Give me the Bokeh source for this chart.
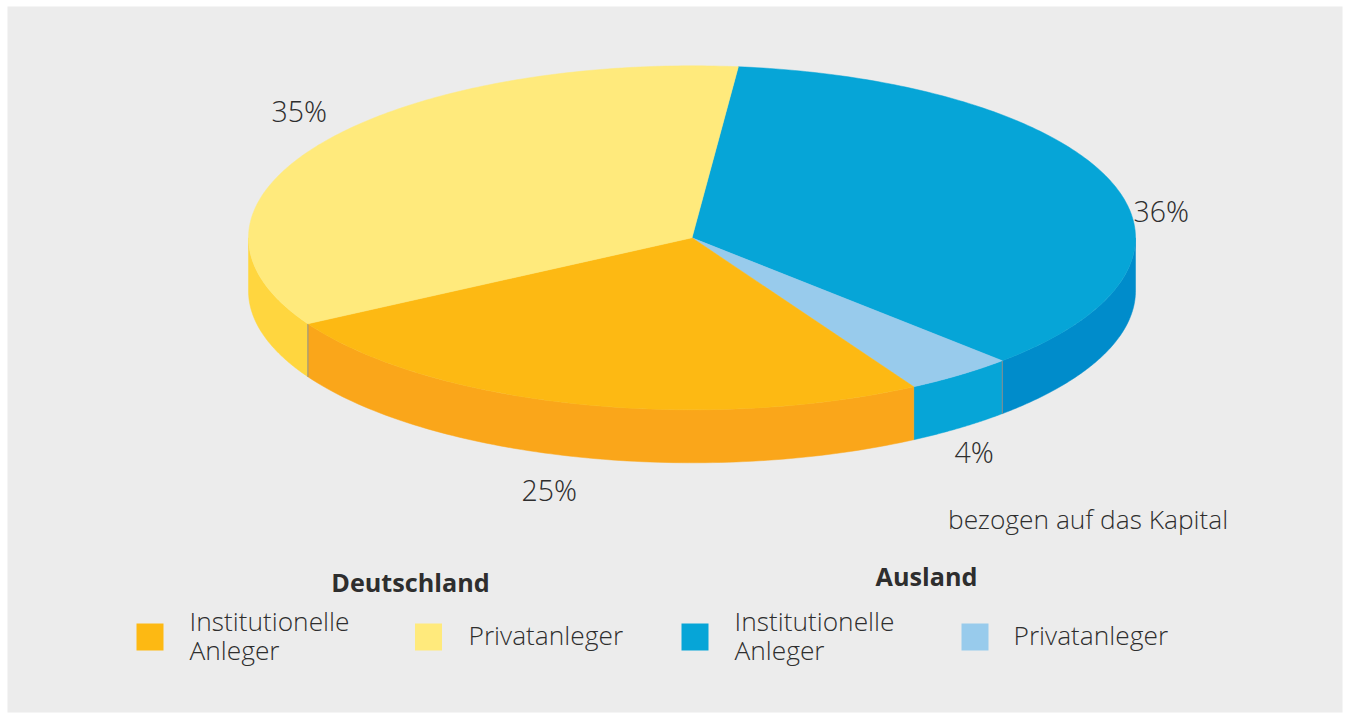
import numpy as np
from bokeh.plotting import figure
from bokeh.models import Range1d
from bokeh.core.properties import value
from bokeh.embed import file_html
from bokeh.resources import INLINE

# data
series = ["Ausland Institutionelle Anleger", "Ausland Privatanleger",
          "Deutschland Institutionelle Anleger", "Deutschland Privatanleger"]
shares = [36, 4, 25, 35]
share_labels = ["36%", "4%", "25%", "35%"]
top_colors = ["#06a5d7", "#98cbec", "#fdb913", "#ffea7c"]
side_colors = ["#008ccb", "#06a5d7", "#faa61a", "#ffd63f"]
edge_marked = [True, False, True, False]
legend_heads = ["Deutschland", "Ausland"]
legend_names = [["Institutionelle", "Anleger"], ["Privatanleger"], ["Institutionelle", "Anleger"], ["Privatanleger"]]
legend_colors = ["#fdb913", "#ffea7c", "#06a5d7", "#98cbec"]
note = "bezogen auf das Kapital"

# geometry
CX, CY, RX, RY, DEPTH = 691.5, 237.3, 443.5, 172.0, 53.0
START = 84.0
FONT = "Open Sans Light"
BOLD = "Open Sans"
TXT = "#2e2e2e"
BG = "#ececec"
YOFF = -11.5

p = figure(width=1348, height=720, output_backend="svg", toolbar_location=None,
           x_range=Range1d(7, 1342), y_range=Range1d(712, 6),
           min_border_left=7, min_border_right=6, min_border_top=6, min_border_bottom=8,
           background_fill_color=BG, border_fill_color="#ffffff", outline_line_color=None)
p.axis.visible = False
p.grid.visible = False

def ell(a):
    t = np.radians(a)
    return CX + RX * np.cos(t), CY - RY * np.sin(t)

cum = START
edges = []
for v, side, marked in zip(shares, side_colors, edge_marked):
    a0, a1 = cum, cum - v * 3.6
    cum = a1
    # front wall: part of the arc in the lower half of the ellipse
    hi, lo = min(a0, 0.0), max(a1, -180.0)
    if hi > lo:
        x, y = ell(np.linspace(hi, lo, 90))
        p.patch(np.r_[x, x[::-1]], np.r_[y, y[::-1] + DEPTH], fill_color=side, line_color=side, line_width=0.5)
        if marked:
            edges.append(ell(lo))
for xe, ye in edges:
    p.line([xe, xe], [ye, ye + DEPTH], line_color="#8a8a8a", line_width=1)

cum = START
for v, top in zip(shares, top_colors):
    a0, a1 = cum, cum - v * 3.6
    cum = a1
    x, y = ell(np.linspace(a0, a1, 160))
    p.patch(np.r_[CX, x], np.r_[CY, y], fill_color=top, line_color=top, line_width=0.5)

def txt(x, y, s, font=FONT, style="normal", size="26.3px", align="left"):
    p.text([x], [y + YOFF], text=[s], text_font=value(font), text_font_style=style, text_font_size=size,
           text_color=TXT, text_baseline="alphabetic", text_align=align)

for s, x, y in zip(share_labels, [1133, 954, 521, 271], [222, 463, 501, 122]):
    txt(x, y, s, size="28.5px")
txt(947.5, 530, note)
for s, x, y in zip(legend_heads, [410, 926], [593, 587]):
    txt(x, y, s, font=BOLD, style="bold", size="25.2px", align="center")

for c, names, sx, tx in zip(legend_colors, legend_names, [149.5, 428, 694.5, 974.5], [189, 468, 734, 1013]):
    p.rect([sx], [636.5], width=27, height=27, fill_color=c, line_color=None)
    if len(names) == 2:
        txt(tx, 632, names[0]); txt(tx, 661, names[1])
    else:
        txt(tx, 646, names[0])

open("out.html", "w").write(file_html(p, INLINE))
